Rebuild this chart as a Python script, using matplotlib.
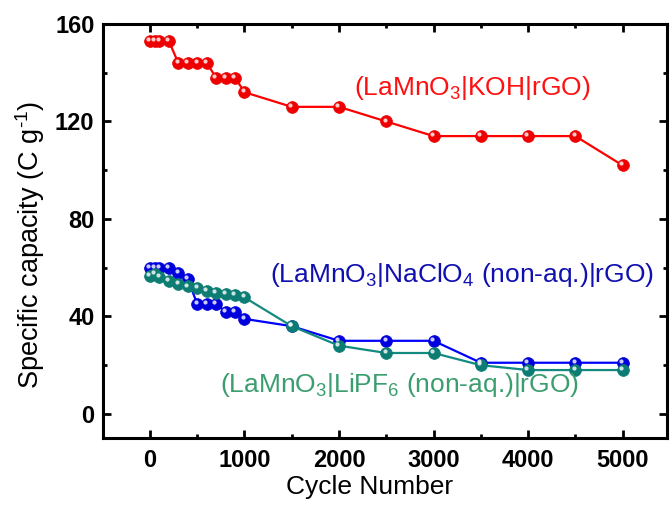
import matplotlib
matplotlib.use("Agg")
import matplotlib.pyplot as plt
from matplotlib import transforms
from matplotlib.ticker import MultipleLocator

plt.rcParams['font.family'] = ['Liberation Sans', 'DejaVu Sans']
plt.rcParams['mathtext.fontset'] = 'custom'
plt.rcParams['mathtext.rm'] = 'Liberation Sans'
plt.rcParams['mathtext.it'] = 'Liberation Sans:italic'
plt.rcParams['mathtext.bf'] = 'Liberation Sans:bold'

cycles = [0, 50, 100, 200, 300, 400, 500, 600, 700, 800, 900, 1000,
          1500, 2000, 2500, 3000, 3500, 4000, 4500, 5000]
koh = [153, 153, 153, 153, 144, 144, 144, 144, 138, 138, 138, 132,
       126, 126, 120, 114, 114, 114, 114, 102]
naclo4 = [60, 60, 60, 60, 58, 55.5, 45, 45, 45, 42, 42, 39,
          36, 30, 30, 30, 21, 21, 21, 21]
lipf6 = [56.5, 57.5, 56, 54.7, 53.3, 52.3, 51.7, 50.6, 49.6, 49.2, 48.8, 47.8,
         36, 28, 25, 25, 20, 18, 18, 18]

xticks = [0, 1000, 2000, 3000, 4000, 5000]
yticks = [0, 40, 80, 120, 160]

fig = plt.figure(figsize=(6.7, 5.05), dpi=100)
ax = fig.add_axes([0.1533, 0.1321, 0.8422, 0.8204])

hl = transforms.offset_copy(ax.transData, fig=fig, x=-1.2, y=1.4, units='points')

series = [
    (koh, '#ff0000', '#ee0000'),
    (naclo4, '#0000ff', '#0000dd'),
    (lipf6, '#138a80', '#0d7d74'),
]
for vals, lc, mc in series:
    ax.plot(cycles, vals, '-', color=lc, lw=1.6, marker='o', ms=8.5,
            mfc=mc, mec=mc, mew=0.5, zorder=3)
    ax.plot(cycles, vals, 'o', ms=3, mfc='white', mec='none', alpha=0.8,
            transform=hl, zorder=4)

ax.text(3407, 133.8, '(LaMnO$_3$|KOH|rGO)', color='#ff1010', fontsize=19,
        ha='center', va='center')
ax.text(3302, 57.1, '(LaMnO$_3$|NaClO$_4$ (non-aq.)|rGO)', color='#1010b0',
        fontsize=19, ha='center', va='center')
ax.text(2635, 12, '(LaMnO$_3$|LiPF$_6$ (non-aq.)|rGO)', color='#3a9e6e',
        fontsize=19, ha='center', va='center')

ax.set_xlim(-500, 5470)
ax.set_ylim(-10, 160)
ax.set_xticks(xticks)
ax.set_yticks(yticks)
ax.xaxis.set_minor_locator(MultipleLocator(500))
ax.yaxis.set_minor_locator(MultipleLocator(20))
ax.tick_params(which='both', direction='in', top=True, right=True, width=2)
ax.tick_params(which='major', length=6, labelsize=17)
ax.tick_params(axis='x', which='major', pad=8)
ax.tick_params(axis='y', which='major', pad=6)
ax.tick_params(which='minor', length=3)
for lab in ax.get_xticklabels() + ax.get_yticklabels():
    lab.set_fontweight('bold')
for s in ax.spines.values():
    s.set_linewidth(2.2)

ax.set_xlabel('Cycle Number', fontsize=19)
ax.set_ylabel('Specific capacity (C g$^{\\text{-1}}$)', fontsize=19.5)
ax.xaxis.set_label_coords(0.4737, -0.1175)
ax.xaxis.label.set_va('center')
ax.yaxis.set_label_coords(-0.129, 0.4666)
ax.yaxis.label.set_va('center')

fig.savefig('out.png', dpi=100)
